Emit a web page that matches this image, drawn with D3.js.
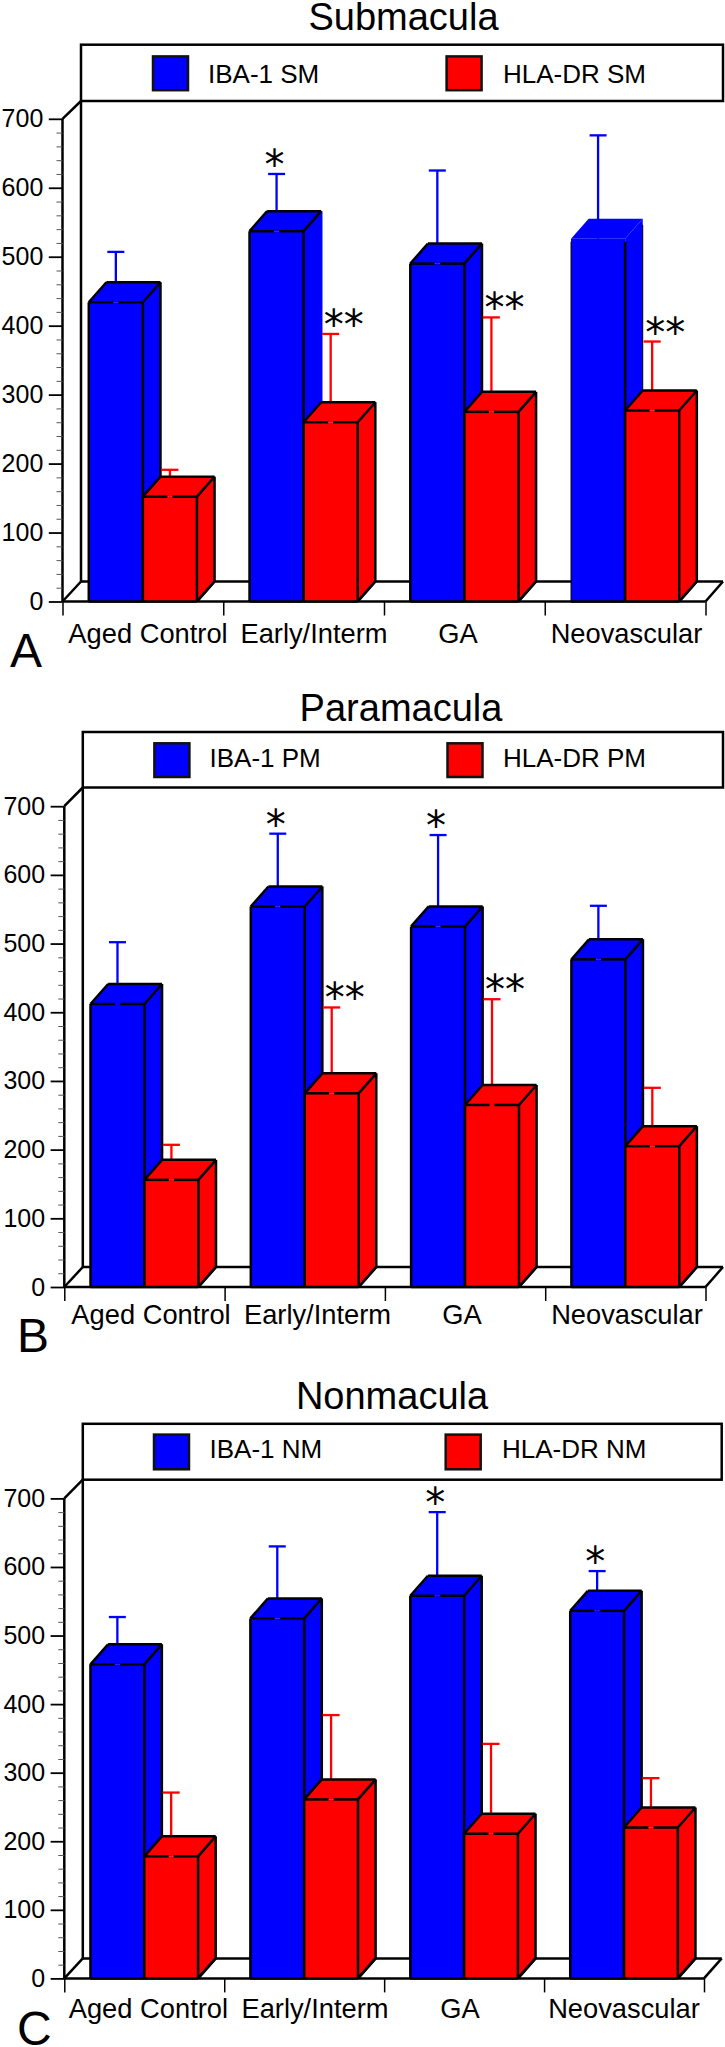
<!DOCTYPE html>
<html><head><meta charset="utf-8">
<script src="https://cdnjs.cloudflare.com/ajax/libs/d3/7.8.5/d3.min.js"></script>
<style>
html,body{margin:0;padding:0;background:#fff;overflow:hidden}
svg{display:block}
text{font-family:"Liberation Sans",Arial,sans-serif;fill:#000}
</style></head><body><svg id="c" width="725" height="2047"></svg>
<script>
const categories = ["Aged Control","Early/Interm","GA","Neovascular"];
const titles = ["Submacula","Paramacula","Nonmacula"];
const panelLetters = ["A","B","C"];
const series1Names = ["IBA-1 SM","IBA-1 PM","IBA-1 NM"];
const series2Names = ["HLA-DR SM","HLA-DR PM","HLA-DR NM"];
const yTicks = [0,100,200,300,400,500,600,700];
const yMinorTicks = d3.range(0,701,20);

const ibaValues = [[434,537,490,526],[412,554,525,477],[458,525,558,536]];
const ibaErrTops = [[507,620,625,676],[502,660,658,555],[527,630,680,594]];
const hlaValues = [[152,260,275,277],[156,282,265,205],[178,261,211,220]];
const hlaErrTops = [[191,388,412,377],[207,407,419,290],[271,384,342,292]];
const ibaStars = [[0,1,0,0],[0,1,1,0],[0,0,1,1]];
const hlaStars = [[0,2,2,2],[0,2,2,0],[0,0,0,0]];

const BLUE="#0000ff", RED="#ff0000";
const DX=17.6, DY=20;
const layouts = [
 {left:62.5,right:705.5,backRight:723,top:118.8,base:601.5,wallTop:101,boxTop:44.7,
  titleX:403.5,titleY:29.5,sw:[153,446.6],swY:[56.4,90.2],legX:[208,503],legY:82.5,
  labelY:642.5,labelX:[148,314,458,626.5],letterX:10,letterY:667,
  bare:[3],blueSide:[1]},
 {left:64.3,right:705.5,backRight:723,top:806.2,base:1287,wallTop:787.5,boxTop:732,
  titleX:401,titleY:721,sw:[154.4,447.5],swY:[743.3,777],legX:[209.5,503],legY:766.5,
  labelY:1324,labelX:[151,317.5,462,627],letterX:17,letterY:1352,bare:[],blueSide:[]},
 {left:64.3,right:704,backRight:721.7,top:1498.4,base:1978.4,wallTop:1479.7,boxTop:1423.8,
  titleX:392,titleY:1409,sw:[154,445.7],swY:[1434.6,1469.3],legX:[209.5,502],legY:1458,
  labelY:2018.3,labelX:[148.4,315,460,624],letterX:17,letterY:2045,bare:[],blueSide:[]}
];

const svg=d3.select("#c");
const LW=2.5, ELW=2.3;

layouts.forEach((L,p)=>{
  const g=svg.append("g");
  const line=(x1,y1,x2,y2,c="#000",w=LW,par=g)=>par.append("line")
    .attr("x1",x1).attr("y1",y1).attr("x2",x2).attr("y2",y2).attr("stroke",c).attr("stroke-width",w);
  const backL=L.left+18.5;
  const y=d3.scaleLinear().domain([0,700]).range([L.base,L.top]);
  const x0=d3.scaleBand().domain(categories).range([L.left,L.right]).paddingInner(0.327).paddingOuter(0.1635);
  const x1=d3.scaleBand().domain(["iba","hla"]).range([0,x0.bandwidth()]);
  const xt=d3.scaleLinear().domain([0,categories.length]).range([L.left,L.right]);

  g.append("text").attr("x",L.titleX).attr("y",L.titleY).attr("text-anchor","middle").attr("font-size",38).text(titles[p]);

  // legend box
  g.append("rect").attr("x",backL).attr("y",L.boxTop).attr("width",L.backRight-backL).attr("height",L.wallTop-L.boxTop)
    .attr("fill","#fff").attr("stroke","#000").attr("stroke-width",LW);
  [[BLUE,series1Names[p]],[RED,series2Names[p]]].forEach((d,i)=>{
    g.append("rect").attr("x",L.sw[i]).attr("y",L.swY[0]).attr("width",35).attr("height",L.swY[1]-L.swY[0])
      .attr("fill",d[0]).attr("stroke","#111").attr("stroke-width",2.5);
    g.append("text").attr("x",L.legX[i]).attr("y",L.legY).attr("font-size",26).text(d[1]);
  });

  // walls and floor
  line(backL,L.wallTop,backL,L.base-DY);
  line(backL,L.wallTop,L.left,L.top);
  line(backL,L.base-DY,L.backRight,L.base-DY);
  line(L.left,L.base,backL,L.base-DY);
  line(L.right,L.base,L.backRight,L.base-DY);

  // axes
  const axL=g.append("g").attr("transform",`translate(${L.left},0)`)
    .call(d3.axisLeft(y).tickValues(yTicks).tickSize(13.7).tickPadding(5.5).tickFormat(d3.format("d")));
  axL.selectAll("text").attr("font-size",25).style("font-family",'"Liberation Sans",Arial,sans-serif').attr("fill","#000");
  axL.selectAll("line").attr("stroke","#000").attr("stroke-width",1.8);
  axL.select(".domain").attr("stroke","#000").attr("stroke-width",LW).attr("d",`M0,${L.base}V${L.top}`);
  const axM=g.append("g").attr("transform",`translate(${L.left},0)`)
    .call(d3.axisLeft(y).tickValues(yMinorTicks.filter(v=>v%100)).tickSize(6).tickFormat(""));
  axM.select(".domain").remove();
  axM.selectAll("line").attr("stroke","#555").attr("stroke-width",1);
  const axB=g.append("g").attr("transform",`translate(0,${L.base})`)
    .call(d3.axisBottom(xt).tickValues(d3.range(0,categories.length+1)).tickSize(14).tickFormat(""));
  axB.selectAll("line").attr("stroke","#000").attr("stroke-width",1.5);
  axB.select(".domain").attr("stroke","#000").attr("stroke-width",LW).attr("d",`M${L.left},0H${L.right}`);

  categories.forEach((c,i)=>{
    g.append("text").attr("x",L.labelX[i]).attr("y",L.labelY).attr("text-anchor","middle").attr("font-size",27.3).text(c);
  });
  g.append("text").attr("x",L.letterX).attr("y",L.letterY).attr("font-size",48).text(panelLetters[p]);

  const bar=(cat,i,key,col,val,err)=>{
    const xa=x0(cat)+x1(key), xb=xa+x1.bandwidth(), t=y(val), b=y(0), cx=(xa+xb)/2;
    const bare=key==="iba"&&L.bare.includes(i);
    const pts=a=>a.map(q=>q.join(",")).join(" ");
    g.append("polygon").attr("points",pts([[xa,b],[xb,b],[xb,t],[xa,t]])).attr("fill",col);
    g.append("polygon").attr("points",pts([[xb,b],[xb+DX,b-DY],[xb+DX,t-DY],[xb,t]])).attr("fill",col);
    g.append("polygon").attr("points",pts([[xa,t],[xa+DX,t-DY],[xb+DX,t-DY],[xb,t]])).attr("fill",col);
    // error bar
    line(cx,t,cx,y(err),col,ELW);
    line(cx-8.5,y(err),cx+8.5,y(err),col,ELW);
    // outlines
    const sideCol=(key==="iba"&&L.blueSide.includes(i))?col:"#000";
    if(bare){
      line(xb,t+3,xb,b);
      line(xb+DX,t-DY+6,xb+DX,b-DY-1,"#000",1);
      line(xa,t+3,xa,b,"#000",1);
    }else{
      line(xa,t,xa,b);
      line(xb,t,xb,b);
      line(xb+DX,t-DY,xb+DX,b-DY,sideCol);
      line(xb+DX,b-DY,xb,b);
      line(xa,t,xa+DX,t-DY);
      line(xa+DX,t-DY,xb+DX,t-DY);
      line(xb,t,xb+DX,t-DY);
      line(xa,t,cx-2.5,t);
      line(cx+2.5,t,xb,t);
    }
    line(xa,b,xb,b);
    line(xb,b,xb+DX,b-DY);
  };
  const stars=(cat,i,key,n,err)=>{
    if(!n) return;
    const cx=x0(cat)+x1(key)+x1.bandwidth()/2;
    g.append("text").attr("x",n===2?cx+13:cx-2).attr("y",y(err)-15).attr("dy","0.5em")
      .attr("text-anchor","middle").attr("font-size",40).style("font-family",'"DejaVu Sans"').text("*".repeat(n));
  };
  categories.forEach((c,i)=>{
    bar(c,i,"iba",BLUE,ibaValues[p][i],ibaErrTops[p][i]);
    bar(c,i,"hla",RED,hlaValues[p][i],hlaErrTops[p][i]);
  });
  categories.forEach((c,i)=>{
    stars(c,i,"iba",ibaStars[p][i],ibaErrTops[p][i]);
    stars(c,i,"hla",hlaStars[p][i],hlaErrTops[p][i]);
  });
});
</script></body></html>
